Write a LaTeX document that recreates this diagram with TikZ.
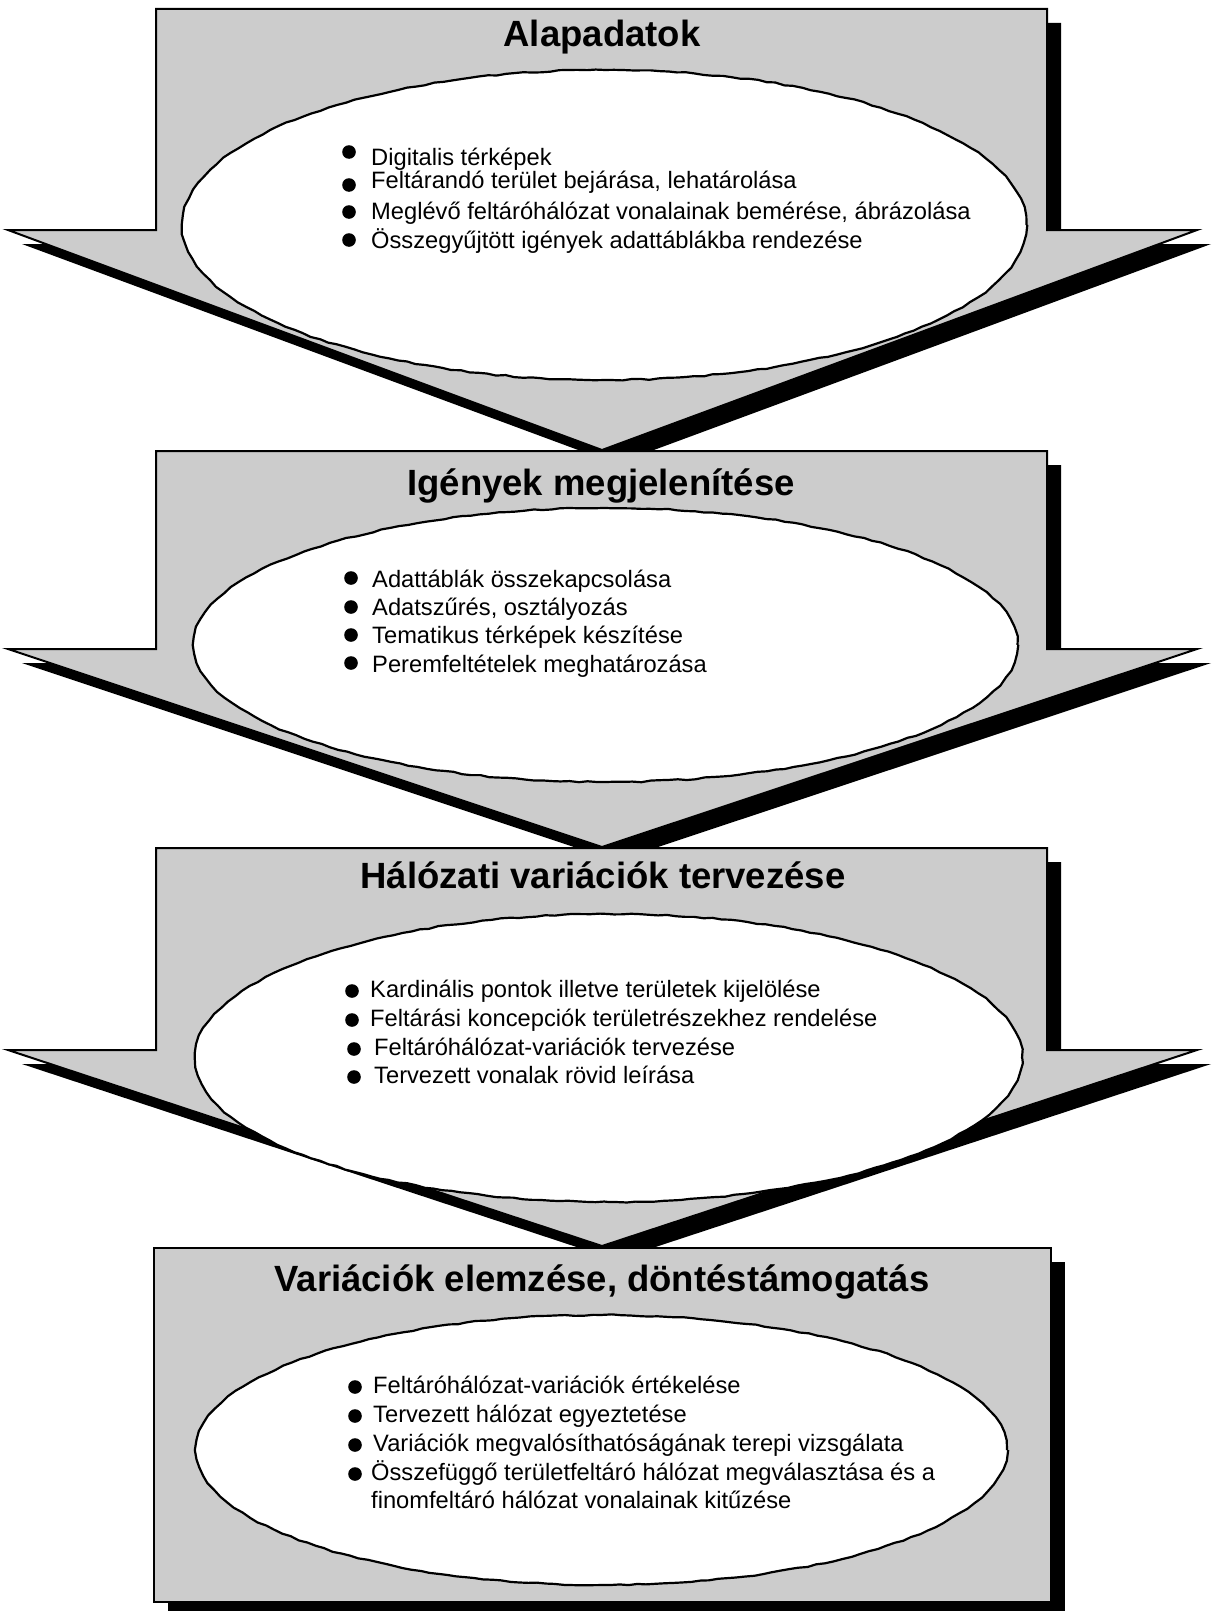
\documentclass[tikz,border=0pt]{standalone}
\usepackage{fontspec}
\setmainfont{Liberation Sans}
\usetikzlibrary{decorations.pathmorphing}
\definecolor{boxgray}{RGB}{204,204,204}
\tikzset{
  arrowbody/.style={fill=boxgray, draw=black, line width=2pt, line join=miter},
  arrowshadow/.style={fill=black},
  oval/.style={fill=white, draw=black, line width=2.2pt,
    decorate, decoration={random steps, segment length=9pt, amplitude=0.7pt}},
  titletext/.style={font=\fontsize{36.5}{40}\selectfont\bfseries, anchor=base, inner sep=0pt},
  itemtext/.style={font=\fontsize{23.7}{28}\selectfont, anchor=base west, inner sep=0pt},
  dot/.style={fill=black}
}
\newcommand{\flowarrow}[3]{%
  \fill[arrowshadow, shift={(14,14)}] (156,#1) -- (1047,#1) -- (1047,#2) -- (1197,#2)
      -- (602,#3) -- (8,#2) -- (156,#2) -- cycle;
  \draw[arrowbody] (156,#1) -- (1047,#1) -- (1047,#2) -- (1197,#2)
      -- (602,#3) -- (8,#2) -- (156,#2) -- cycle;
}
\begin{document}
\begin{tikzpicture}[x=1pt, y=-1pt]
\pgfmathsetseed{7}
\useasboundingbox (0,0) rectangle (1211,1611);

% ---------- block 1 ----------
\flowarrow{9}{230}{450}
\draw[oval] (604.5,225) ellipse [x radius=422pt, y radius=155pt];
\node[titletext] (t1) at (602,47) {Alapadatok};
\fill[dot] (349,152) circle (6.8pt);
\node[itemtext] (a1) at (371,165) {Digitalis térképek};
\fill[dot] (349,185) circle (6.8pt);
\node[itemtext] (a2) at (371,188) {Feltárandó terület bejárása, lehatárolása};
\fill[dot] (349,212) circle (6.8pt);
\node[itemtext] (a3) at (371,219) {Meglévő feltáróhálózat vonalainak bemérése, ábrázolása};
\fill[dot] (349,240) circle (6.8pt);
\node[itemtext] (a4) at (371,248) {Összegyűjtött igények adattáblákba rendezése};

% ---------- block 2 ----------
\flowarrow{451}{649}{847}
\draw[oval] (605.5,645) ellipse [x radius=412pt, y radius=137pt];
\node[titletext] (t2) at (601,495) {Igények megjelenítése};
\fill[dot] (351,578) circle (6.8pt);
\node[itemtext] (b1) at (372,587) {Adattáblák összekapcsolása};
\fill[dot] (351,607) circle (6.8pt);
\node[itemtext] (b2) at (372,615) {Adatszűrés, osztályozás};
\fill[dot] (351,635) circle (6.8pt);
\node[itemtext] (b3) at (372,643) {Tematikus térképek készítése};
\fill[dot] (351,663) circle (6.8pt);
\node[itemtext] (b4) at (372,672) {Peremfeltételek meghatározása};

% ---------- block 3 ----------
\flowarrow{848}{1050}{1246}
\draw[oval] (608.5,1058) ellipse [x radius=413.5pt, y radius=144pt];
\node[titletext] (t3) at (603,888) {Hálózati variációk tervezése};
\fill[dot] (352,991) circle (6.8pt);
\node[itemtext] (c1) at (370,997) {Kardinális pontok illetve területek kijelölése};
\fill[dot] (352,1020) circle (6.8pt);
\node[itemtext] (c2) at (370,1026) {Feltárási koncepciók területrészekhez rendelése};
\fill[dot] (354,1049) circle (6.8pt);
\node[itemtext] (c3) at (374,1055) {Feltáróhálózat-variációk tervezése};
\fill[dot] (354,1077) circle (6.8pt);
\node[itemtext] (c4) at (374,1083) {Tervezett vonalak rövid leírása};

% ---------- block 4 ----------
\fill[arrowshadow] (168,1262) rectangle (1065,1611);
\draw[arrowbody] (154,1248) rectangle (1051,1602);
\draw[oval] (601.5,1450) ellipse [x radius=405.5pt, y radius=135pt];
\node[titletext] (t4) at (602,1291) {Variációk elemzése, döntéstámogatás};
\fill[dot] (355,1387) circle (6.8pt);
\node[itemtext] (d1) at (373,1393) {Feltáróhálózat-variációk értékelése};
\fill[dot] (355,1416) circle (6.8pt);
\node[itemtext] (d2) at (373,1422) {Tervezett hálózat egyeztetése};
\fill[dot] (355,1445) circle (6.8pt);
\node[itemtext] (d3) at (373,1451) {Variációk megvalósíthatóságának terepi vizsgálata};
\fill[dot] (355,1474) circle (6.8pt);
\node[itemtext] (d4) at (371,1480) {Összefüggő területfeltáró hálózat megválasztása és a};
\node[itemtext] (d5) at (371,1508) {finomfeltáró hálózat vonalainak kitűzése};
\end{tikzpicture}
\end{document}
